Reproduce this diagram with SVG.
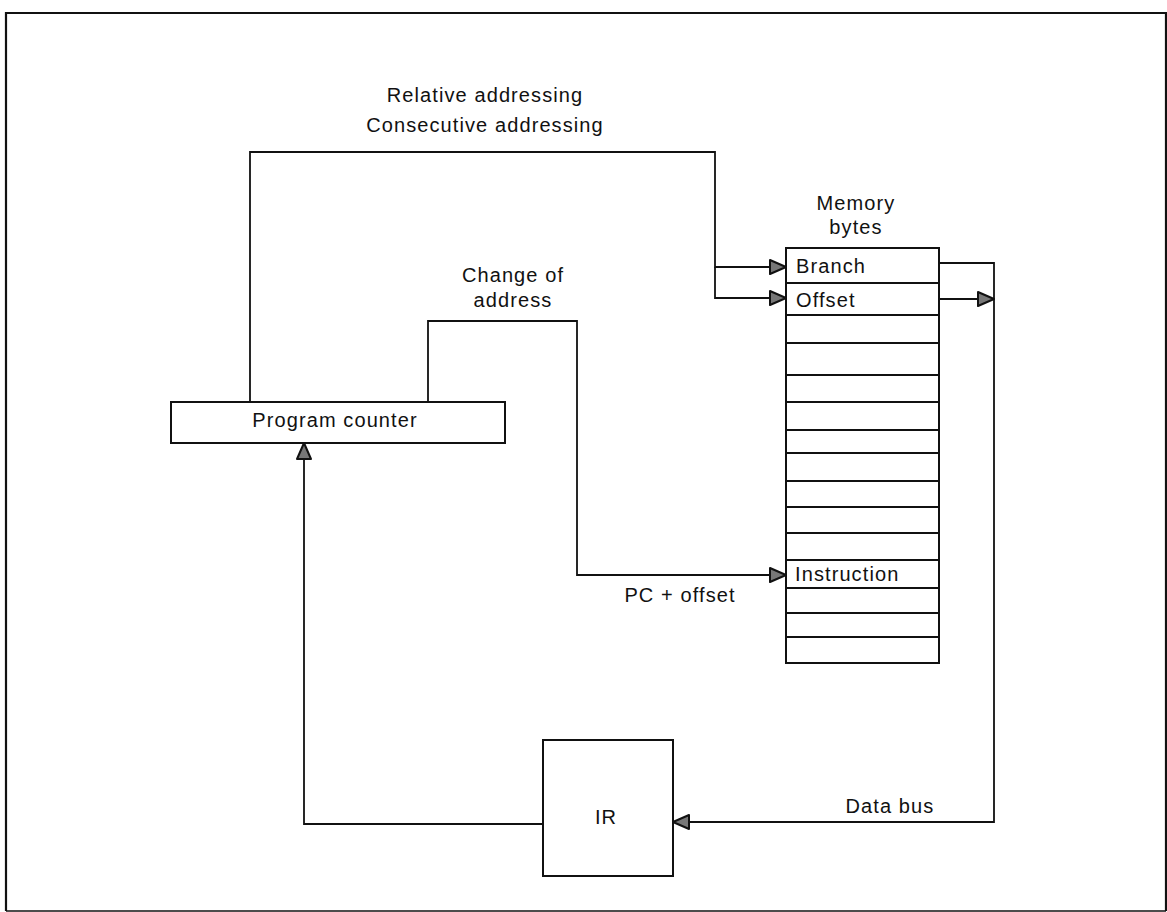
<svg xmlns="http://www.w3.org/2000/svg" width="1167" height="912" viewBox="0 0 1167 912">
<defs>
<style>
.t{font-family:"Liberation Sans",Arial,sans-serif;font-size:20px;letter-spacing:1.1px;fill:#111}
.box{fill:#fff;stroke:#111;stroke-width:2}
.ln{fill:none;stroke:#111;stroke-width:1.8}
</style>
<marker id="ah" markerUnits="userSpaceOnUse" markerWidth="20" markerHeight="18" viewBox="0 0 20 18" refX="18" refY="9" orient="auto">
<path d="M2,2 L18,9 L2,16 Z" fill="#777" stroke="#111" stroke-width="2" stroke-linejoin="round"/>
</marker>
</defs>
<rect x="0" y="0" width="1167" height="912" fill="#fff"/>
<path d="M6,911 L6,13 L1166,13 L1166,911" fill="none" stroke="#111" stroke-width="2.2"/>
<path d="M6,911 L1166,911" fill="none" stroke="#111" stroke-width="1.5"/>

<text class="t" x="485" y="102" text-anchor="middle">Relative addressing</text>

<g id="memory">
<rect class="box" x="786" y="248" width="153" height="415"/>
<path class="ln" d="M786,283H939M786,315H939M786,343H939M786,375H939M786,402H939M786,430H939M786,453H939M786,481H939M786,507H939M786,533H939M786,560H939M786,588H939M786,613H939M786,637H939" stroke-width="2"/>
<text class="t" x="856" y="210" text-anchor="middle">Memory</text>
<text class="t" x="856" y="234" text-anchor="middle">bytes</text>
<text class="t" x="796" y="273">Branch</text>
<text class="t" x="796" y="307">Offset</text>
<text class="t" x="795" y="581">Instruction</text>
</g>

<g id="pc">
<rect class="box" x="171" y="402" width="334" height="41"/>
<text class="t" x="335" y="427" text-anchor="middle">Program counter</text>
</g>

<g id="ir">
<rect class="box" x="543" y="740" width="130" height="136"/>
<text class="t" x="606" y="824" text-anchor="middle">IR</text>
</g>

<g id="connectors">
<path class="ln" d="M250,402 V152 H715 V267 H786" marker-end="url(#ah)"/>
<path class="ln" d="M715,267 V298 H786" marker-end="url(#ah)"/>
<path class="ln" d="M428,402 V321 H577 V575 H786" marker-end="url(#ah)"/>
<path class="ln" d="M939,299 H994" marker-end="url(#ah)"/>
<path class="ln" d="M939,263 H994 V822 H673" marker-end="url(#ah)"/>
<path class="ln" d="M543,824 H304 V443" marker-end="url(#ah)"/>
<text class="t" x="485" y="132" text-anchor="middle">Consecutive addressing</text>
<text class="t" x="513" y="282" text-anchor="middle">Change of</text>
<text class="t" x="513" y="307" text-anchor="middle">address</text>
<text class="t" x="680" y="602" text-anchor="middle">PC + offset</text>
<text class="t" x="890" y="813" text-anchor="middle">Data bus</text>
</g>
</svg>
